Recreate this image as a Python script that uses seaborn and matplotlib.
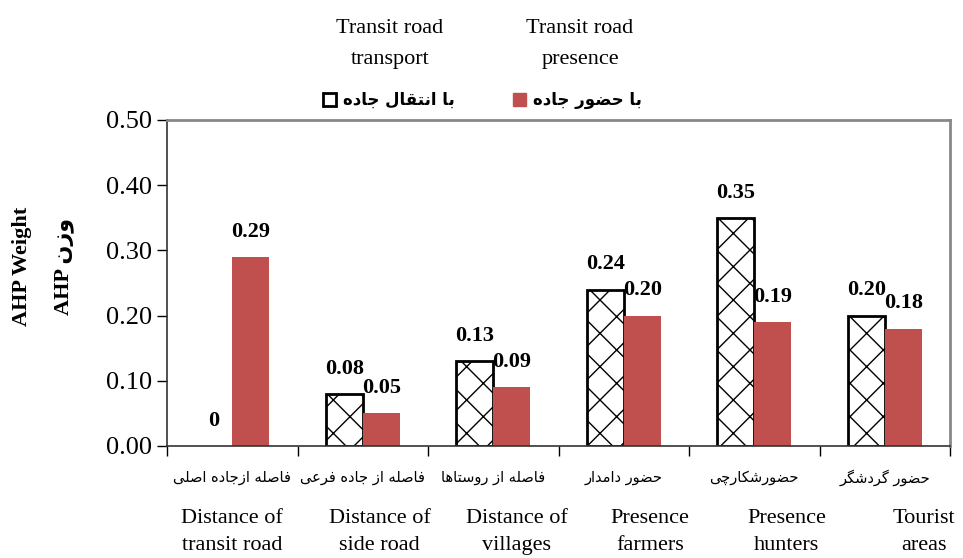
import matplotlib
matplotlib.use("Agg")
import matplotlib.pyplot as plt
from matplotlib.patches import Patch
import seaborn as sns
import pandas as pd
import numpy as np

# data
cats_fa = ["فاصله ازجاده اصلی", "فاصله از جاده فرعی", "فاصله از روستاها",
           "حضور دامدار", "حضورشکارچی", "حضور گردشگر"]
cats_en = ["Distance of\ntransit road", "Distance of\nside road", "Distance of\nvillages",
           "Presence\nfarmers", "Presence\nhunters", "Tourist\nareas"]
transport = [0, 0.08, 0.13, 0.24, 0.35, 0.20]
presence = [0.29, 0.05, 0.09, 0.20, 0.19, 0.18]
transport_lbl = ["0", "0.08", "0.13", "0.24", "0.35", "0.20"]
presence_lbl = ["0.29", "0.05", "0.09", "0.20", "0.19", "0.18"]
series_fa = ["با انتقال جاده", "با حضور جاده"]
series_en = ["Transit road\ntransport", "Transit road\npresence"]
yticks = [0.0, 0.1, 0.2, 0.3, 0.4, 0.5]

# minimal persian shaping (matplotlib has no bidi/shaping)
FORMS = {
    "ا": ("\uFE8D", "\uFE8E", None, None), "ب": ("\uFE8F", "\uFE90", "\uFE91", "\uFE92"),
    "ت": ("\uFE95", "\uFE96", "\uFE97", "\uFE98"), "ج": ("\uFE9D", "\uFE9E", "\uFE9F", "\uFEA0"),
    "ح": ("\uFEA1", "\uFEA2", "\uFEA3", "\uFEA4"), "د": ("\uFEA9", "\uFEAA", None, None),
    "ر": ("\uFEAD", "\uFEAE", None, None), "ز": ("\uFEAF", "\uFEB0", None, None),
    "س": ("\uFEB1", "\uFEB2", "\uFEB3", "\uFEB4"), "ش": ("\uFEB5", "\uFEB6", "\uFEB7", "\uFEB8"),
    "ص": ("\uFEB9", "\uFEBA", "\uFEBB", "\uFEBC"), "ض": ("\uFEBD", "\uFEBE", "\uFEBF", "\uFEC0"),
    "ع": ("\uFEC9", "\uFECA", "\uFECB", "\uFECC"), "ف": ("\uFED1", "\uFED2", "\uFED3", "\uFED4"),
    "ق": ("\uFED5", "\uFED6", "\uFED7", "\uFED8"), "ل": ("\uFEDD", "\uFEDE", "\uFEDF", "\uFEE0"),
    "م": ("\uFEE1", "\uFEE2", "\uFEE3", "\uFEE4"), "ن": ("\uFEE5", "\uFEE6", "\uFEE7", "\uFEE8"),
    "ه": ("\uFEE9", "\uFEEA", "\uFEEB", "\uFEEC"), "و": ("\uFEED", "\uFEEE", None, None),
    "ی": ("\uFBFC", "\uFBFD", "\uFBFE", "\uFBFF"), "ک": ("\uFB8E", "\uFB8F", "\uFB90", "\uFB91"),
    "گ": ("\uFB92", "\uFB93", "\uFB94", "\uFB95"), "چ": ("\uFB7A", "\uFB7B", "\uFB7C", "\uFB7D"),
}


def fa(s):
    out = []
    for i, ch in enumerate(s):
        if ch not in FORMS:
            out.append(ch)
            continue
        prev = s[i - 1] if i > 0 else ""
        nxt = s[i + 1] if i + 1 < len(s) else ""
        join_prev = prev in FORMS and FORMS[prev][2] is not None
        join_next = FORMS[ch][2] is not None and nxt in FORMS
        iso, fin, ini, med = FORMS[ch]
        if join_prev and join_next:
            out.append(med)
        elif join_prev:
            out.append(fin)
        elif join_next:
            out.append(ini)
        else:
            out.append(iso)
    return "".join(out)[::-1]


serif = "Liberation Serif"
red = "#C0504D"

df = pd.DataFrame({
    "cat": cats_fa * 2,
    "series": [series_fa[0]] * 6 + [series_fa[1]] * 6,
    "value": transport + presence,
})

fig = plt.figure(figsize=(9.63, 5.58), dpi=100)
ax = fig.add_axes([167 / 963, 1 - 446 / 558, (950 - 167) / 963, (446 - 120) / 558])

sns.barplot(data=df, x="cat", y="value", hue="series", order=cats_fa,
            hue_order=series_fa, palette=["white", red], saturation=1, width=0.57,
            errorbar=None, legend=False, ax=ax)

plt.rcParams["hatch.linewidth"] = 1.0
for p in ax.containers[0]:
    p.set_hatch("x")
    p.set_edgecolor("black")
    p.set_linewidth(2 if p.get_height() > 0 else 0)
for p in ax.containers[1]:
    p.set_linewidth(0)

# value labels
for cont, labels in zip(ax.containers, [transport_lbl, presence_lbl]):
    for p, lbl in zip(cont, labels):
        ax.annotate(lbl, (p.get_x() + p.get_width() / 2, p.get_height()),
                    xytext=(0, 11), textcoords="offset points", ha="center", va="bottom",
                    fontsize=16, fontweight="bold", family=serif)

ax.set_ylim(0, 0.5)
ax.set_xlim(-0.5, 5.5)
ax.set_yticks(yticks)
ax.set_yticklabels([f"{v:.2f}" for v in yticks], fontsize=19, family=serif)
ax.tick_params(axis="y", length=7, width=1, direction="out", pad=4)

ax.set_xticks(range(6))
ax.set_xticklabels([fa(c) for c in cats_fa], fontsize=10.5, family="DejaVu Sans")
ax.set_xticks(np.arange(-0.5, 6, 1), minor=True)
ax.tick_params(axis="x", which="major", length=0, pad=17)
ax.tick_params(axis="x", which="minor", length=7, width=1, direction="out")
ax.set_xlabel("")
ax.set_ylabel("")

for side in ["left", "bottom"]:
    ax.spines[side].set_color("#333333")
    ax.spines[side].set_linewidth(1.2)
for side in ["top", "right"]:
    ax.spines[side].set_color("#888888")
    ax.spines[side].set_linewidth(2)

# english category labels (slightly drifting right, as in the reference)
en_offsets = [0, 0.13, 0.18, 0.2, 0.25, 0.3]
trans = matplotlib.transforms.blended_transform_factory(ax.transData, fig.transFigure)
for i, (lbl, off) in enumerate(zip(cats_en, en_offsets)):
    ax.text(i + off, 1 - 532 / 558, lbl, transform=trans, ha="center", va="center",
            fontsize=16, family=serif, linespacing=1.6)

# y label: english + persian
fig.text(22 / 963, 1 - 266 / 558, "AHP Weight", rotation=90, ha="center", va="center",
         fontsize=16, fontweight="bold", family=serif)
fig.text(64 / 963, 1 - 266 / 558, "AHP " + fa("وزن"), rotation=90, ha="center", va="center",
         fontsize=16, fontweight="bold", family=[serif, "DejaVu Sans"])

# series headings above legend
for x, t in zip([390, 580], series_en):
    fig.text(x / 963, 1 - 44 / 558, t, ha="center", va="center", fontsize=16,
             family=serif, linespacing=1.8)

handles = [Patch(facecolor="white", edgecolor="black", linewidth=2),
           Patch(facecolor=red, edgecolor=red)]
fig.legend(handles, [fa(s) for s in series_fa], loc="center", ncol=2,
           bbox_to_anchor=(482 / 963, 1 - 100 / 558), frameon=False,
           prop={"family": "DejaVu Sans", "weight": "bold", "size": 12},
           handlelength=0.8, handleheight=0.8, handletextpad=0.4, columnspacing=3.5)

fig.savefig("out.png", dpi=100)
